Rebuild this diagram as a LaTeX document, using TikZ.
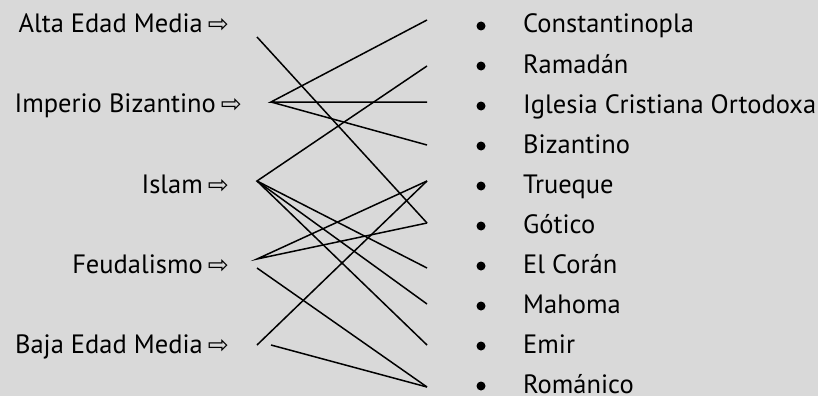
\documentclass[tikz,border=0pt]{standalone}
\usepackage{fontspec}
\setmainfont{PT Sans}
\newfontfamily\symfont{DejaVu Sans}
\definecolor{bgc}{RGB}{217,217,217}
\newcommand{\rarr}{\hspace{5pt}{\symfont\fontsize{25}{28}\selectfont ⇨}}
\begin{document}
\begin{tikzpicture}[x=1pt,y=-1pt,
  lbl/.style={inner sep=0pt,anchor=base east,font=\fontsize{26.5}{30}\selectfont},
  itm/.style={inner sep=0pt,anchor=base west,font=\fontsize{26.5}{30}\selectfont},
  dotm/.style={circle,fill=black,inner sep=0pt,minimum size=9pt},
  link/.style={line width=1.5pt,black}]
\fill[bgc] (0,0) rectangle (818,396);
\useasboundingbox (0,0) rectangle (818,396);
% left labels
\node[lbl] (alta) at (229,33) {Alta Edad Media\rarr};
\node[lbl] (imp) at (242,112) {Imperio Bizantino\rarr};
\node[lbl] (isl) at (229,193) {Islam\rarr};
\node[lbl] (feu) at (229,273) {Feudalismo\rarr};
\node[lbl] (baja) at (229,353) {Baja Edad Media\rarr};
% right items
\foreach \i/\t in {0/Constantinopla,1/Ramadán,2/Iglesia Cristiana Ortodoxa,3/Bizantino,4/Trueque,5/Gótico,6/El Corán,7/Mahoma,8/Emir,9/Románico}{
  \node[dotm] (b\i) at (481,{26+40*\i}) {};
  \node[itm] (r\i) at (523,{33+40*\i}) {\t};
}
% line end points
\coordinate (aE) at (257,37);
\coordinate (ibE) at (271,102);
\coordinate (isE) at (257,181);
\coordinate (feA) at (257,259);
\coordinate (feB) at (257,268);
\coordinate (bjA) at (257,345);
\coordinate (bjB) at (271,345);
\coordinate (t0) at (427,20);
\coordinate (t1) at (427,66);
\coordinate (t2) at (427,102);
\coordinate (t3) at (427,145);
\coordinate (t4) at (427,181);
\coordinate (t5) at (427,223);
\coordinate (t6) at (427,268);
\coordinate (t7) at (427,304);
\coordinate (t8) at (427,345);
\coordinate (t9) at (427,387);
% connectors
\draw[link] (aE) -- (t5);
\draw[link] (t0) -- (ibE) -- (t2);
\draw[link] (ibE) -- (t3);
\draw[link] (t1) -- (isE) -- (t6);
\draw[link] (isE) -- (t7);
\draw[link] (isE) -- (t8);
\draw[link] (t4) -- (feA) -- (t5);
\draw[link] (feB) -- (t9);
\draw[link] (bjA) -- (t4);
\draw[link] (bjB) -- (t9);
\end{tikzpicture}
\end{document}
